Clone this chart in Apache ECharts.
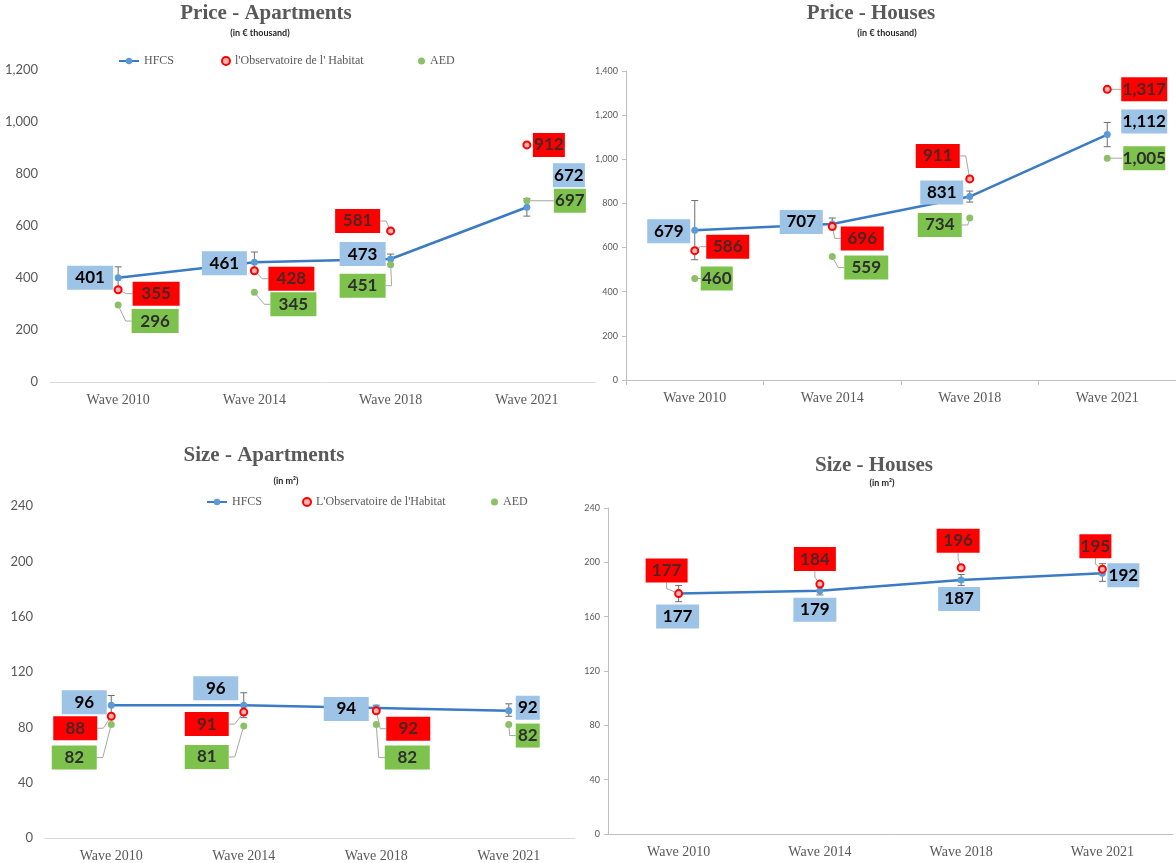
<!DOCTYPE html>
<html>
<head>
<meta charset="utf-8">
<script src="https://cdn.jsdelivr.net/npm/echarts@6/dist/echarts.min.js"></script>
<style>
html,body{margin:0;padding:0;background:#ffffff;}
#c{width:1176px;height:863px;}
</style>
</head>
<body>
<div id="c"></div>
<script>
// ---------------- DATA ----------------
const categories = ['Wave 2010', 'Wave 2014', 'Wave 2018', 'Wave 2021'];

// Price - Apartments (in € thousand)
const priceAptHFCS = [401, 461, 473, 672];
const priceAptHFCSLow = [359, 422, 454, 638];
const priceAptHFCSHigh = [443, 500, 492, 706];
const priceAptObs = [355, 428, 581, 912];
const priceAptAED = [296, 345, 451, 697];
const priceAptTicks = [0, 200, 400, 600, 800, 1000, 1200];

// Price - Houses (in € thousand)
const priceHouseHFCS = [679, 707, 831, 1112];
const priceHouseHFCSLow = [545, 680, 806, 1057];
const priceHouseHFCSHigh = [813, 734, 856, 1167];
const priceHouseObs = [586, 696, 911, 1317];
const priceHouseAED = [460, 559, 734, 1005];
const priceHouseTicks = [0, 200, 400, 600, 800, 1000, 1200, 1400];

// Size - Apartments (in m²)
const sizeAptHFCS = [96, 96, 94, 92];
const sizeAptHFCSLow = [89, 87, 92, 88];
const sizeAptHFCSHigh = [103, 105, 96, 97];
const sizeAptObs = [88, 91, 92, null];
const sizeAptAED = [82, 81, 82, 82];
const sizeAptTicks = [0, 40, 80, 120, 160, 200, 240];

// Size - Houses (in m²)
const sizeHouseHFCS = [177, 179, 187, 192];
const sizeHouseHFCSLow = [171, 176, 183, 186];
const sizeHouseHFCSHigh = [183, 182, 191, 199];
const sizeHouseObs = [177, 184, 196, 195];
const sizeHouseTicks = [0, 40, 80, 120, 160, 200, 240];

// ---------------- LABEL PLACEMENT (offset of box centre from point, box width) ----------------
const lblPriceAptHFCS = [[-28, 0, 46], [-30, 1, 45], [-28, -5, 46], [42, -32, 32]];
const lblPriceAptObs  = [[38, 4, 47], [37, 8, 46], [-33, -10, 45], [22, 0, 32]];
const lblPriceAptAED  = [[37, 16, 47], [39, 12, 46], [-28, 21, 46], [43, 0, 32]];

const lblPriceHouseHFCS = [[-26, 1, 43], [-31, -2, 43], [-28, -4, 43], [37, -13, 46]];
const lblPriceHouseObs  = [[33, -4, 43], [30, 12, 43], [-32, -23, 44], [37, 0, 46]];
const lblPriceHouseAED  = [[22, 0, 32], [34, 11, 44], [-30, 7, 44], [37, 0, 42]];

const lblSizeAptHFCS = [[-27, -3, 45], [-28, -17, 45], [-30, 1, 45], [19, -3, 24]];
const lblSizeAptObs  = [[-36, 12, 44], [-37, 12, 44], [32, 18, 44], null];
const lblSizeAptAED  = [[-37, 33, 45], [-37, 31, 44], [31, 33, 45], [19, 11, 24]];

const lblSizeHouseHFCS = [[-1, 23, 43], [-5, 19, 43], [-2, 19, 42], [21, 2, 32]];
const lblSizeHouseObs  = [[-12, -23, 42], [-5, -25, 42], [-3, -27, 43], [-7, -23, 32]];

// ---------------- STYLE ----------------
const GRAY = '#595959';
const LINE_BLUE = '#3A7BC4';
const PT_BLUE = '#5B9BD5';
const BOX_BLUE = '#9DC3E6';
const BOX_RED = '#FF0000';
const BOX_GREEN = '#7DC24C';
const PT_GREEN = '#8CC067';
const LABEL_FONT = 'Lato';
const SERIF = 'Liberation Serif';
const fmt = v => Number(v).toLocaleString('en-US');

const panels = [
  {
    title: 'Price - Apartments', sub: '(in € thousand)', tx: 266, ty: 14, sx: 260, sy: 33,
    grid: {left: 50, top: 70, width: 545, height: 312},
    ticks: priceAptTicks, hfcs: priceAptHFCS, low: priceAptHFCSLow, high: priceAptHFCSHigh,
    obs: priceAptObs, aed: priceAptAED, obsName: "l'Observatoire de l' Habitat",
    lH: lblPriceAptHFCS, lO: lblPriceAptObs, lA: lblPriceAptAED,
    framed: false, xTicks: false, yFont: 13, yMargin: 12
  },
  {
    title: 'Price - Houses', sub: '(in € thousand)', tx: 871, ty: 14, sx: 887, sy: 33,
    grid: {left: 626, top: 71, width: 558, height: 309},
    ticks: priceHouseTicks, hfcs: priceHouseHFCS, low: priceHouseHFCSLow, high: priceHouseHFCSHigh,
    obs: priceHouseObs, aed: priceHouseAED, obsName: "l'Observatoire de l' Habitat",
    lH: lblPriceHouseHFCS, lO: lblPriceHouseObs, lA: lblPriceHouseAED,
    framed: true, xTicks: true, yFont: 9, yMargin: 8
  },
  {
    title: 'Size - Apartments', sub: '(in m²)', tx: 264, ty: 456, sx: 286, sy: 481,
    grid: {left: 45, top: 506, width: 530, height: 333},
    ticks: sizeAptTicks, hfcs: sizeAptHFCS, low: sizeAptHFCSLow, high: sizeAptHFCSHigh,
    obs: sizeAptObs, aed: sizeAptAED, obsName: "L'Observatoire de l'Habitat",
    lH: lblSizeAptHFCS, lO: lblSizeAptObs, lA: lblSizeAptAED,
    framed: false, xTicks: false, yFont: 13, yMargin: 12
  },
  {
    title: 'Size - Houses', sub: '(in m²)', tx: 874, ty: 466, sx: 882, sy: 483,
    grid: {left: 608, top: 508, width: 565, height: 326},
    ticks: sizeHouseTicks, hfcs: sizeHouseHFCS, low: sizeHouseHFCSLow, high: sizeHouseHFCSHigh,
    obs: sizeHouseObs, aed: null, obsName: "l'Observatoire de l' Habitat",
    lH: lblSizeHouseHFCS, lO: lblSizeHouseObs, lA: null,
    framed: true, xTicks: false, yFont: 9, yMargin: 8
  }
];

function place(offs) {
  return function (p) {
    const o = offs[p.dataIndex];
    if (!o) return {};
    return {
      x: p.rect.x + p.rect.width / 2 + o[0],
      y: p.rect.y + p.rect.height / 2 + o[1],
      align: 'center',
      verticalAlign: 'middle'
    };
  };
}

function boxLabel(bg, color) {
  return {
    show: true, position: 'inside', formatter: p => fmt(Array.isArray(p.value) ? p.value[1] : p.value),
    backgroundColor: bg, color: color, fontFamily: LABEL_FONT, fontWeight: 'bold',
    fontSize: 17, lineHeight: 18, padding: [3, 0], align: 'center', opacity: 1
  };
}

const option = {
  animation: false,
  backgroundColor: '#ffffff',
  grid: [], xAxis: [], yAxis: [], series: [], graphic: [],
  legend: []
};

panels.forEach((p, i) => {
  option.grid.push(Object.assign({containLabel: false}, p.grid));
  option.xAxis.push({
    type: 'category', gridIndex: i, data: categories, boundaryGap: true,
    axisLine: {show: true, lineStyle: {color: p.framed ? '#BFBFBF' : '#D9D9D9', width: 1}},
    axisTick: {show: p.xTicks, length: 5, lineStyle: {color: '#BFBFBF'}},
    axisLabel: {fontFamily: SERIF, fontSize: 14, color: GRAY, margin: 11},
    splitLine: {show: false}
  });
  option.yAxis.push({
    type: 'value', gridIndex: i,
    min: p.ticks[0], max: p.ticks[p.ticks.length - 1], interval: p.ticks[1] - p.ticks[0],
    axisLine: {show: p.framed, lineStyle: {color: '#BFBFBF'}},
    axisTick: {show: p.framed, length: 4, lineStyle: {color: '#BFBFBF'}},
    splitLine: {show: false},
    axisLabel: {fontFamily: LABEL_FONT, fontSize: p.yFont, color: GRAY, margin: p.yMargin, formatter: fmt}
  });

  // error bars
  option.series.push({
    type: 'custom', xAxisIndex: i, yAxisIndex: i, z: 2, silent: true,
    data: p.low.map((l, k) => [k, l, p.high[k]]),
    encode: {x: 0, y: [1, 2]},
    renderItem: function (params, api) {
      const lo = api.coord([api.value(0), api.value(1)]);
      const hi = api.coord([api.value(0), api.value(2)]);
      const w = 3.5;
      const st = {stroke: '#6E6E6E', lineWidth: 1};
      return {
        type: 'group', children: [
          {type: 'line', shape: {x1: lo[0], y1: lo[1], x2: hi[0], y2: hi[1]}, style: st},
          {type: 'line', shape: {x1: lo[0] - w, y1: lo[1], x2: lo[0] + w, y2: lo[1]}, style: st},
          {type: 'line', shape: {x1: hi[0] - w, y1: hi[1], x2: hi[0] + w, y2: hi[1]}, style: st}
        ]
      };
    }
  });

  // HFCS line
  option.series.push({
    name: 'HFCS', type: 'line', xAxisIndex: i, yAxisIndex: i, z: 3,
    symbol: 'circle', symbolSize: 7, showSymbol: true,
    lineStyle: {color: LINE_BLUE, width: 2.5},
    itemStyle: {color: PT_BLUE, opacity: 1},
    data: p.hfcs.map((v, k) => ({value: v, label: {width: p.lH[k][2]}})),
    label: boxLabel(BOX_BLUE, '#000000'),
    labelLayout: place(p.lH),
    emphasis: {disabled: true}
  });

  // Observatoire
  if (p.obs) {
    option.series.push({
      name: p.obsName, type: 'scatter', xAxisIndex: i, yAxisIndex: i, z: 4,
      symbol: 'circle', symbolSize: 7,
      itemStyle: {color: '#FFB3B3', borderColor: '#FF0000', borderWidth: 2, opacity: 1},
      data: p.obs.map((v, k) => ({value: [k, v == null ? '-' : v], label: {width: p.lO[k] ? p.lO[k][2] : 40}})),
      label: boxLabel(BOX_RED, '#4F2424'),
      labelLine: {show: true, length2: 6, lineStyle: {color: '#A6A6A6', width: 1, opacity: 1}},
      labelLayout: place(p.lO),
      emphasis: {disabled: true}
    });
  }
  // AED
  if (p.aed) {
    option.series.push({
      name: 'AED', type: 'scatter', xAxisIndex: i, yAxisIndex: i, z: 4,
      symbol: 'circle', symbolSize: 7,
      itemStyle: {color: PT_GREEN, opacity: 1},
      data: p.aed.map((v, k) => ({value: [k, v], label: {width: p.lA[k][2]}})),
      label: boxLabel(BOX_GREEN, '#2E2E2E'),
      labelLine: {show: true, length2: 6, lineStyle: {color: '#A6A6A6', width: 1, opacity: 1}},
      labelLayout: place(p.lA),
      emphasis: {disabled: true}
    });
  }

  option.graphic.push({
    type: 'text', x: p.tx, y: p.ty, silent: true,
    style: {text: p.title, fill: GRAY, font: 'bold 21px "Liberation Serif"', align: 'center', verticalAlign: 'middle'}
  });
  option.graphic.push({
    type: 'text', x: p.sx, y: p.sy, silent: true,
    style: {text: p.sub, fill: '#262626', font: 'bold 9px Lato', align: 'center', verticalAlign: 'middle'}
  });
});

const legendText = {fontFamily: SERIF, fontSize: 12, color: GRAY};
function leg(left, top, name, icon, w, h) {
  const l = {left: left, top: top, padding: 0, selectedMode: false, itemWidth: w, itemHeight: h,
    itemGap: 4, textStyle: legendText, data: [name]};
  if (icon) l.icon = icon;
  return l;
}
option.legend.push(leg(118, 55, 'HFCS', null, 20, 8));
option.legend.push(leg(221, 55, "l'Observatoire de l' Habitat", 'circle', 8, 8));
option.legend.push(leg(418, 55, 'AED', 'circle', 7, 7));
option.legend.push(leg(206, 496, 'HFCS', null, 20, 8));
option.legend.push(leg(302, 496, "L'Observatoire de l'Habitat", 'circle', 8, 8));
option.legend.push(leg(491, 496, 'AED', 'circle', 7, 7));

const chart = echarts.init(document.getElementById('c'), null, {renderer: 'canvas'});
chart.setOption(option);
</script>
</body>
</html>
